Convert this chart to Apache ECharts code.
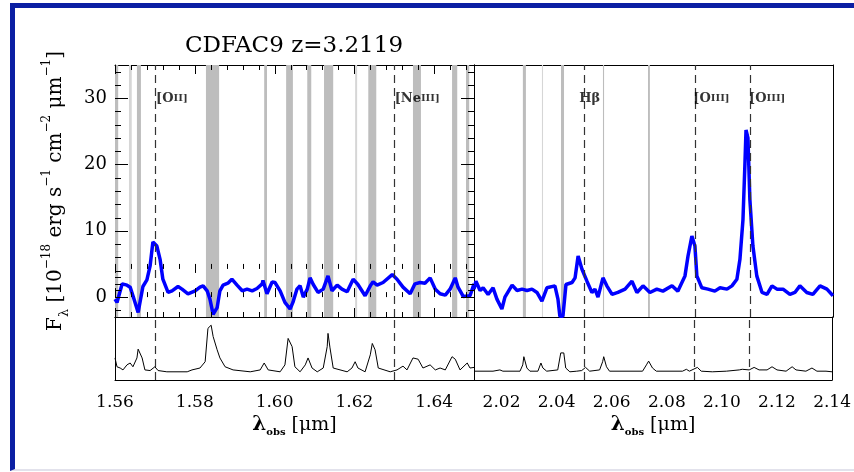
<!DOCTYPE html>
<html><head><meta charset="utf-8">
<script src="https://cdn.jsdelivr.net/npm/echarts@6/dist/echarts.min.js"></script>
<style>
html,body{margin:0;padding:0;background:#fff;}
#wrap{position:relative;width:854px;height:472px;overflow:hidden;background:#fff;}
#frame{position:absolute;left:10px;top:3px;width:900px;height:468px;border-left:5px solid #0b1fa3;border-top:5px solid #0b1fa3;border-bottom:2px solid #e2e2ec;box-sizing:border-box;}
#chart{position:absolute;left:0;top:0;width:854px;height:472px;}
</style></head>
<body><div id="wrap"><div id="frame"></div><div id="chart"></div></div>
<script>
// ---------------- data ----------------
const titleText = 'CDFAC9 z=3.2119';

const leftRange = [1.56, 1.65];
const rightRange = [2.01, 2.14];
const leftTicks = [1.56, 1.58, 1.60, 1.62, 1.64];
const rightTicks = [2.02, 2.04, 2.06, 2.08, 2.10, 2.12, 2.14];
const fluxRange = [-3, 35];
const fluxTicks = [0, 10, 20, 30];
const skyRange = [0, 5];
const skyTicks = [1, 2, 3, 4];

const leftWave = [1.5600,1.5605,1.5618,1.5630,1.5638,1.5645,1.5658,1.5663,1.5670,1.5680,1.5688,1.5695,1.5705,1.5713,1.5720,1.5733,1.5743,1.5758,1.5768,1.5783,1.5801,1.5813,1.5821,1.5831,1.5838,1.5846,1.5856,1.5863,1.5871,1.5883,1.5893,1.5906,1.5919,1.5931,1.5944,1.5956,1.5969,1.5971,1.5981,1.5994,1.6001,1.6014,1.6026,1.6039,1.6046,1.6056,1.6064,1.6072,1.6082,1.6089,1.6097,1.6109,1.6122,1.6134,1.6144,1.6157,1.6169,1.6182,1.6197,1.6209,1.6227,1.6240,1.6247,1.6257,1.6272,1.6295,1.6307,1.6322,1.6340,1.6352,1.6365,1.6377,1.6390,1.6403,1.6415,1.6428,1.6440,1.6453,1.6460,1.6473,1.6490,1.6500];
const leftFlux = [-0.3,-0.8,2.0,1.8,1.5,0.2,-2.3,-2.6,1.6,2.6,4.7,8.3,7.7,5.7,2.7,0.7,0.95,1.6,1.2,0.5,0.95,1.5,1.7,0.95,-0.3,-2.6,-1.6,0.95,1.8,2.1,2.7,1.8,0.95,1.2,0.95,1.3,2.0,2.5,0.5,2.3,2.2,0.95,-0.8,-1.8,-0.8,1.2,1.7,0,1.2,2.9,1.9,0.7,1.2,3.2,0.95,1.8,1.2,0.8,2.7,1.9,0.2,1.7,2.3,1.8,2.2,3.4,2.7,1.5,0.5,2.0,2.2,2.1,2.9,1.2,0.5,0.3,1.2,2.9,1.5,0.1,0.2,2.0];

const rightWave = [2.0100,2.0107,2.0122,2.0133,2.0151,2.0169,2.0183,2.0201,2.0212,2.0238,2.0256,2.0274,2.0292,2.0310,2.0328,2.0346,2.0364,2.0393,2.0404,2.0411,2.0422,2.0433,2.0455,2.0466,2.0477,2.0491,2.0509,2.0527,2.0538,2.0549,2.0567,2.0581,2.0600,2.0621,2.0647,2.0672,2.0690,2.0712,2.0737,2.0762,2.0784,2.0817,2.0838,2.0864,2.0875,2.0889,2.0900,2.0907,2.0925,2.0947,2.0972,2.0991,2.1016,2.1034,2.1052,2.1063,2.1074,2.1081,2.1085,2.1092,2.1099,2.1110,2.1124,2.1143,2.1161,2.1179,2.1197,2.1219,2.1244,2.1262,2.1280,2.1305,2.1327,2.1353,2.1378,2.1400];
const rightFlux = [1.2,2.4,1.0,1.4,0.4,1.4,-0.3,-1.8,0,1.8,1.0,1.2,1.0,1.2,0.7,-0.6,1.4,1.7,-0.3,-2.9,-2.9,1.9,2.2,2.9,6.2,4.2,2.4,0.7,1.2,0,2.9,1.7,0.4,0.7,1.2,2.4,0.7,1.7,0.7,1.2,0.9,1.7,0.9,3.2,6.2,9.2,7.7,3.2,1.4,1.2,0.9,1.4,1.2,1.7,2.7,5.7,11.7,20.0,25.2,24.0,14.7,7.7,3.2,0.7,0.4,1.7,1.2,1.2,0.4,0.7,1.7,0.7,0.4,1.7,1.2,0.2];

const leftSkyWave = [1.5600,1.5605,1.5613,1.5620,1.5630,1.5638,1.5645,1.5655,1.5658,1.5663,1.5668,1.5675,1.5688,1.5700,1.5708,1.5730,1.5781,1.5793,1.5813,1.5826,1.5833,1.5841,1.5846,1.5856,1.5863,1.5876,1.5896,1.5939,1.5964,1.5974,1.5984,1.6014,1.6026,1.6034,1.6044,1.6051,1.6064,1.6077,1.6084,1.6094,1.6107,1.6122,1.6132,1.6134,1.6139,1.6147,1.6182,1.6194,1.6202,1.6209,1.6227,1.6240,1.6245,1.6252,1.6260,1.6290,1.6307,1.6322,1.6332,1.6347,1.6360,1.6372,1.6390,1.6403,1.6415,1.6428,1.6445,1.6453,1.6465,1.6483,1.6490,1.6500];
const leftSky = [1.75,1.05,0.95,0.8,1.2,1.35,1.05,1.75,2.45,2.3,1.75,0.8,0.75,1.05,0.75,0.65,0.65,0.8,0.95,1.45,4.1,4.35,3.45,2.4,1.75,1.05,0.8,0.65,0.8,1.35,0.8,0.65,1.2,3.3,2.65,1.05,0.65,1.2,1.75,0.95,0.65,0.95,2.65,3.7,2.55,0.95,0.65,0.95,1.45,0.95,0.65,2.0,2.9,2.4,0.95,0.65,0.8,1.1,0.8,1.75,1.65,0.95,1.2,0.8,0.95,0.8,1.85,1.65,0.8,1.35,0.95,1.0];

const rightSkyWave = [2.0100,2.0169,2.0194,2.0205,2.0267,2.0277,2.0281,2.0292,2.0303,2.0332,2.0343,2.0350,2.0364,2.0404,2.0415,2.0426,2.0433,2.0448,2.0473,2.0491,2.0505,2.0520,2.0556,2.0567,2.0571,2.0581,2.0592,2.0712,2.0726,2.0734,2.0748,2.0762,2.0857,2.0871,2.0882,2.0911,2.0925,2.0965,2.1016,2.1063,2.1074,2.1099,2.1117,2.1135,2.1164,2.1182,2.1200,2.1233,2.1255,2.1269,2.1305,2.1327,2.1345,2.1378,2.1400];
const rightSky = [0.7,0.7,0.8,0.7,0.7,1.2,1.85,0.95,0.7,0.7,1.35,0.95,0.7,0.8,2.15,2.15,0.95,0.65,0.7,0.75,1.0,0.7,0.8,1.45,1.85,1.05,0.7,0.7,1.2,1.5,0.95,0.7,0.7,0.85,0.7,1.0,0.7,0.65,0.7,0.8,0.85,0.8,1.0,0.8,0.8,1.05,0.8,0.7,1.05,0.8,0.7,0.95,0.7,0.7,0.65];

const leftBands = [[1.5600,1.5608],[1.5655,1.5665],[1.5828,1.5861],[1.5974,1.5981],[1.6029,1.6046],[1.6082,1.6092],[1.6124,1.6147],[1.6235,1.6255],[1.6347,1.6367],[1.6445,1.6458],[1.6480,1.6488]];
const leftBandsFaint = [[1.5635,1.5642],[1.6202,1.6207]];
const rightBands = [[2.0277,2.0288],[2.0415,2.0426],[2.0567,2.0571],[2.0730,2.0737]];
const rightBandsFaint = [[2.0346,2.0350]];

const leftLines = [1.5698, 1.6296];
const leftLineNames = ['[OII]', '[NeIII]'];
const rightLines = [2.0474, 2.0887, 2.1089];
const rightLineNames = ['H\u03B2', '[OIII]', '[OIII]'];

// ---------------- helpers ----------------
const SERIF = 'DejaVu Serif';
const X_MINOR = 0.004, Y_MINOR = 2;
const isIn = (arr, v) => arr.some(t => Math.abs(t - v) < 1e-7);
function minorTicks(min, max, step, majors) {
  const out = [];
  for (let k = Math.ceil(min / step - 1e-9); k <= Math.floor(max / step + 1e-9); k++) {
    const v = +(k * step).toFixed(6);
    if (!isIn(majors, v)) out.push(v);
  }
  return out;
}
const axLine = () => ({ show: true, onZero: false, lineStyle: { color: '#000', width: 1 } });
function mkX(grid, range, majors, showLabels, withName) {
  const bottom = { type: 'value', gridIndex: grid, min: range[0], max: range[1], position: 'bottom',
    splitLine: { show: false }, axisLine: axLine(), axisTick: { show: false },
    axisLabel: showLabels ? { show: true, customValues: majors, margin: 14, color: '#000', fontFamily: SERIF,
      fontSize: 17, formatter: v => v.toFixed(2), showMinLabel: true, showMaxLabel: true } : { show: false } };
  const top = { type: 'value', gridIndex: grid, min: range[0], max: range[1], position: 'top',
    splitLine: { show: false }, axisLine: axLine(), axisTick: { show: false }, axisLabel: { show: false } };
  if (withName) {
    Object.assign(bottom, {
      name: '{l|\u03BB}{sb|obs} {n|[\u03BCm]}', nameLocation: 'middle', nameGap: 33,
      nameTextStyle: { color: '#000', fontFamily: SERIF, fontSize: 19, rich: {
        l: { fontFamily: SERIF, fontSize: 20, fontWeight: 'bold', lineHeight: 24, color: '#000' },
        sb: { fontFamily: SERIF, fontSize: 10, fontWeight: 'bold', verticalAlign: 'bottom', lineHeight: 14, color: '#000' },
        n: { fontFamily: SERIF, fontSize: 19, lineHeight: 24, color: '#000' } } }
    });
  }
  return [bottom, top];
}
function mkY(grid, range, labelTicks, withName) {
  const left = { type: 'value', gridIndex: grid, min: range[0], max: range[1], position: 'left',
    splitLine: { show: false }, axisLine: axLine(), axisTick: { show: false },
    axisLabel: labelTicks ? { show: true, customValues: labelTicks, margin: 8, color: '#000', fontFamily: SERIF,
      fontSize: 18, formatter: v => String(v) } : { show: false } };
  const right = { type: 'value', gridIndex: grid, min: range[0], max: range[1], position: 'right',
    splitLine: { show: false }, axisLine: axLine(), axisTick: { show: false }, axisLabel: { show: false } };
  if (withName) {
    Object.assign(left, {
      name: '{f|F}{sb|\u03BB} {n|[10}{sp|\u221218}{n| erg s}{sp|\u22121}{n| cm}{sp|\u22122}{n| \u03BCm}{sp|\u22121}{n|]}',
      nameLocation: 'middle', nameRotate: 90, nameGap: 44,
      nameTextStyle: { color: '#000', fontFamily: SERIF, fontSize: 20, rich: {
        f: { fontFamily: SERIF, fontSize: 20, lineHeight: 30, color: '#000' },
        n: { fontFamily: SERIF, fontSize: 20, lineHeight: 30, color: '#000' },
        sb: { fontFamily: SERIF, fontSize: 13, lineHeight: 13, verticalAlign: 'bottom', color: '#000' },
        sp: { fontFamily: SERIF, fontSize: 12, lineHeight: 12, verticalAlign: 'top', color: '#000' } } }
    });
  }
  return [left, right];
}
const zip = (a, b) => a.map((v, i) => [v, b[i]]);
function bandData(bands, faint) {
  return bands.map(b => [{ xAxis: b[0], itemStyle: { color: '#bdbdbd' } }, { xAxis: b[1] }])
    .concat(faint.map(b => [{ xAxis: b[0], itemStyle: { color: '#d6d6d6' } }, { xAxis: b[1] }]));
}
function labelText(s) {
  const m = s.match(/^(\[[A-Za-z]+?)(I+\])$/);
  return m ? '{a|' + m[1] + '}{b|' + m[2] + '}' : '{a|' + s + '}';
}
function panelSeries(g, wave, flux, skyWave, sky, bands, faint, lines, names) {
  const up = 2 * g, lo = 2 * (g + 1);
  const dashed = { silent: true, symbol: ['none', 'none'], label: { show: false },
    lineStyle: { color: '#333', width: 1.2, type: [8, 5] }, data: lines.map(v => ({ xAxis: v })) };
  return [
    { type: 'line', xAxisIndex: up, yAxisIndex: up, data: [], silent: true, z: 1,
      markArea: { silent: true, data: bandData(bands, faint) } },
    { type: 'line', xAxisIndex: up, yAxisIndex: up, data: zip(wave, flux), showSymbol: false, symbol: 'none',
      lineStyle: { color: '#0000ff', width: 3.5 }, z: 3, silent: true, clip: true },
    { type: 'line', xAxisIndex: up, yAxisIndex: up, data: [], silent: true, z: 5, markLine: dashed },
    { type: 'scatter', xAxisIndex: up, yAxisIndex: up, symbolSize: 0, silent: true, z: 6,
      data: lines.map((v, i) => ({ value: [v, 30], name: names[i] })),
      label: { show: true, position: 'right', distance: 2, formatter: p => labelText(p.name),
        rich: { a: { fontFamily: SERIF, fontSize: 13, fontWeight: 'bold', color: '#000' },
                b: { fontFamily: SERIF, fontSize: 10, fontWeight: 'bold', color: '#000' } } } },
    { type: 'line', xAxisIndex: lo, yAxisIndex: lo, data: zip(skyWave, sky), showSymbol: false, symbol: 'none',
      lineStyle: { color: '#000', width: 1 }, z: 3, silent: true, markLine: dashed }
  ];
}

// ---------------- chart ----------------
const chart = echarts.init(document.getElementById('chart'), null, { renderer: 'canvas' });
chart.setOption({
  animation: false,
  backgroundColor: 'transparent',
  title: { text: titleText, left: 180, top: 30,
    textStyle: { fontFamily: SERIF, fontSize: 23, fontWeight: 'normal', color: '#000' } },
  grid: [
    { left: 115, top: 65, width: 359, height: 252 },
    { left: 115, top: 317, width: 359, height: 63 },
    { left: 474, top: 65, width: 359, height: 252 },
    { left: 474, top: 317, width: 359, height: 63 }
  ],
  xAxis: [].concat(
    mkX(0, leftRange, leftTicks, false),
    mkX(1, leftRange, leftTicks, true, true),
    mkX(2, rightRange, rightTicks, false),
    mkX(3, rightRange, rightTicks, true, true)
  ),
  yAxis: [].concat(
    mkY(0, fluxRange, fluxTicks, true),
    mkY(1, skyRange, null, false),
    mkY(2, fluxRange, null, false),
    mkY(3, skyRange, null, false)
  ),
  series: [].concat(
    panelSeries(0, leftWave, leftFlux, leftSkyWave, leftSky, leftBands, leftBandsFaint, leftLines, leftLineNames),
    panelSeries(2, rightWave, rightFlux, rightSkyWave, rightSky, rightBands, rightBandsFaint, rightLines, rightLineNames)
  )
});

// ---------------- tick marks, placed through the axes' own scales ----------------
function tickElements(axIdx, xr, yr, xMaj, xMin, yMaj, yMin, L) {
  const toPx = (x, y) => chart.convertToPixel({ xAxisIndex: axIdx, yAxisIndex: axIdx }, [x, y]);
  const bl = toPx(xr[0], yr[0]), tr = toPx(xr[1], yr[1]);
  const left = bl[0], bottom = bl[1], right = tr[0], top = tr[1];
  const els = [];
  const ln = (x1, y1, x2, y2) => els.push({ type: 'line', silent: true, z: 100,
    shape: { x1: x1, y1: y1, x2: x2, y2: y2 }, style: { stroke: '#000', lineWidth: 1 } });
  const xt = (v, len) => { const x = Math.round(toPx(v, yr[0])[0]) + 0.5; ln(x, bottom, x, bottom - len); ln(x, top, x, top + len); };
  const yt = (v, len) => { const y = Math.round(toPx(xr[0], v)[1]) + 0.5; ln(left, y, left + len, y); ln(right, y, right - len, y); };
  xMaj.forEach(v => xt(v, L.xMaj));
  xMin.forEach(v => xt(v, L.xMin));
  yMaj.forEach(v => yt(v, L.yMaj));
  yMin.forEach(v => yt(v, L.yMin));
  return els;
}
const leftXMinor = minorTicks(leftRange[0], leftRange[1], X_MINOR, leftTicks);
const rightXMinor = minorTicks(rightRange[0], rightRange[1], X_MINOR, rightTicks);
const fluxMinor = minorTicks(fluxRange[0], fluxRange[1], Y_MINOR, fluxTicks);
const upLen = { xMaj: 9, xMin: 5, yMaj: 13, yMin: 6 };
const loLen = { xMaj: 9, xMin: 5, yMaj: 6, yMin: 6 };
const tickEls = [].concat(
  tickElements(0, leftRange, fluxRange, leftTicks, leftXMinor, fluxTicks, fluxMinor, upLen),
  tickElements(1, leftRange, skyRange, leftTicks, leftXMinor, skyTicks, [], loLen),
  tickElements(2, rightRange, fluxRange, rightTicks, rightXMinor, fluxTicks, fluxMinor, upLen),
  tickElements(3, rightRange, skyRange, rightTicks, rightXMinor, skyTicks, [], loLen)
);
chart.setOption({ graphic: [{ type: 'group', silent: true, z: 100, children: tickEls }] });
</script></body></html>
